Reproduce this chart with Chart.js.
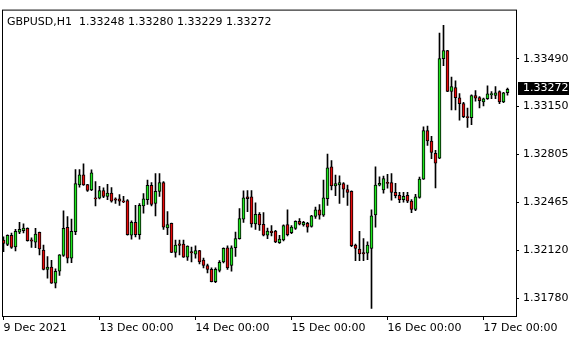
<!DOCTYPE html>
<html>
<head>
<meta charset="utf-8">
<style>
html,body{margin:0;padding:0;background:#fff;}
#wrap{width:580px;height:340px;position:relative;}
</style>
<script src="https://cdn.jsdelivr.net/npm/chart.js@4.4.1/dist/chart.umd.min.js"></script>
</head>
<body>
<div id="wrap"><canvas id="c" width="580" height="340"></canvas></div>
<script>
const symbol = "GBPUSD,H1";

const open = [
1.32194,1.32163,1.32229,1.32145,1.32252,1.32261,1.32278,1.32196,1.32180,1.32250,
1.32124,1.31985,1.32001,1.31887,1.31973,1.32085,1.32285,1.32066,1.32254,1.32588,
1.32661,1.32591,1.32553,1.32496,1.32494,1.32549,1.32507,1.32530,1.32489,1.32489,
1.32473,1.32477,1.32229,1.32321,1.32233,1.32438,1.32484,1.32586,1.32456,1.32542,
1.32606,1.32282,1.32314,1.32107,1.32168,1.32166,1.32073,1.32112,1.32094,1.32119,
1.32052,1.32013,1.31985,1.31898,1.31978,1.32038,1.32140,1.32013,1.32140,1.32205,
1.32344,1.32503,1.32503,1.32310,1.32379,1.32308,1.32229,1.32259,1.32259,1.32177,
1.32196,1.32305,1.32247,1.32278,1.32328,1.32303,1.32314,1.32292,1.32363,1.32410,
1.32372,1.32491,1.32717,1.32581,1.32588,1.32598,1.32556,1.32542,1.32159,1.32131,
1.32105,1.32101,1.32135,1.32375,1.32586,1.32553,1.32606,1.32606,1.32535,1.32514,
1.32484,1.32514,1.32473,1.32414,1.32500,1.32630,1.32976,1.32902,1.32814,1.32779,
1.33490,1.33548,1.33257,1.33283,1.33211,1.33169,1.33076,1.33069,1.33227,1.33213,
1.33181,1.33204,1.33232,1.33227,1.33255,1.33181,1.33248
];
const high = [
1.32217,1.32233,1.32245,1.32271,1.32321,1.32310,1.32282,1.32210,1.32278,1.32252,
1.32159,1.32076,1.32050,1.31989,1.32091,1.32403,1.32363,1.32344,1.32698,1.32698,
1.32740,1.32593,1.32696,1.32612,1.32579,1.32567,1.32593,1.32570,1.32496,1.32519,
1.32507,1.32484,1.32333,1.32442,1.32456,1.32526,1.32623,1.32606,1.32670,1.32670,
1.32612,1.32398,1.32316,1.32194,1.32194,1.32194,1.32154,1.32145,1.32154,1.32121,
1.32066,1.32024,1.31996,1.31996,1.32048,1.32140,1.32154,1.32154,1.32252,1.32419,
1.32547,1.32549,1.32549,1.32461,1.32391,1.32391,1.32280,1.32298,1.32264,1.32229,
1.32303,1.32410,1.32298,1.32333,1.32349,1.32328,1.32321,1.32372,1.32431,1.32449,
1.32623,1.32809,1.32762,1.32658,1.32654,1.32606,1.32588,1.32547,1.32166,1.32257,
1.32205,1.32182,1.32410,1.32717,1.32647,1.32651,1.32665,1.32670,1.32600,1.32535,
1.32535,1.32535,1.32484,1.32521,1.32644,1.33004,1.33009,1.32935,1.32835,1.33673,
1.33729,1.33550,1.33358,1.33332,1.33241,1.33178,1.33137,1.33232,1.33262,1.33220,
1.33208,1.33297,1.33255,1.33290,1.33260,1.33250,1.33280
];
const low = [
1.32112,1.32154,1.32135,1.32117,1.32240,1.32245,1.32187,1.32142,1.32140,1.32089,
1.31982,1.31922,1.31885,1.31853,1.31943,1.32078,1.32031,1.32034,1.32233,1.32572,
1.32585,1.32542,1.32547,1.32438,1.32489,1.32498,1.32484,1.32466,1.32456,1.32442,
1.32461,1.32229,1.32201,1.32217,1.32201,1.32386,1.32449,1.32438,1.32368,1.32507,
1.32271,1.32233,1.32105,1.32073,1.32089,1.32071,1.32050,1.32038,1.32066,1.32024,
1.31996,1.31961,1.31896,1.31891,1.31968,1.32031,1.31985,1.31973,1.32078,1.32201,
1.32321,1.32398,1.32287,1.32271,1.32264,1.32224,1.32205,1.32224,1.32177,1.32170,
1.32189,1.32224,1.32240,1.32271,1.32303,1.32294,1.32252,1.32287,1.32349,1.32344,
1.32363,1.32442,1.32553,1.32512,1.32456,1.32500,1.32442,1.32147,1.32048,1.32048,
1.32048,1.32055,1.31706,1.32287,1.32581,1.32530,1.32565,1.32480,1.32496,1.32461,
1.32466,1.32461,1.32391,1.32405,1.32494,1.32628,1.32870,1.32776,1.32567,1.32776,
1.33441,1.33255,1.33125,1.33125,1.33051,1.33069,1.32999,1.33018,1.33186,1.33139,
1.33153,1.33199,1.33204,1.33204,1.33169,1.33176,1.33229
];
const close = [
1.32170,1.32229,1.32142,1.32257,1.32271,1.32280,1.32191,1.32187,1.32238,1.32131,
1.31985,1.32001,1.31887,1.31971,1.32089,1.32278,1.32066,1.32257,1.32598,1.32661,
1.32588,1.32549,1.32675,1.32489,1.32549,1.32507,1.32530,1.32473,1.32480,1.32473,
1.32468,1.32233,1.32321,1.32233,1.32442,1.32489,1.32586,1.32449,1.32542,1.32606,
1.32287,1.32305,1.32107,1.32159,1.32156,1.32073,1.32152,1.32103,1.32119,1.32038,
1.32013,1.31985,1.31898,1.31985,1.32036,1.32135,1.31996,1.32140,1.32205,1.32349,
1.32496,1.32491,1.32310,1.32379,1.32303,1.32229,1.32259,1.32247,1.32182,1.32201,
1.32298,1.32233,1.32287,1.32328,1.32308,1.32321,1.32287,1.32368,1.32410,1.32372,
1.32496,1.32710,1.32581,1.32598,1.32606,1.32558,1.32535,1.32154,1.32135,1.32096,
1.32096,1.32159,1.32368,1.32588,1.32600,1.32633,1.32600,1.32535,1.32512,1.32484,
1.32507,1.32473,1.32414,1.32503,1.32630,1.32976,1.32902,1.32821,1.32744,1.33490,
1.33548,1.33257,1.33290,1.33211,1.33169,1.33076,1.33069,1.33227,1.33208,1.33190,
1.33204,1.33239,1.33241,1.33246,1.33181,1.33246,1.33272
];

const xTickBars = [0, 24, 48, 72, 96, 120];
const xTickLabels = ["9 Dec 2021", "13 Dec 00:00", "14 Dec 00:00", "15 Dec 00:00", "16 Dec 00:00", "17 Dec 00:00"];
const yTickValues = [1.31780, 1.32120, 1.32465, 1.32805, 1.33150, 1.33490];

const FONT_FAMILY = "'DejaVu Sans', sans-serif";
const FONT = { family: FONT_FAMILY, size: 11 };
const UP = '#1ee61e';
const DOWN = '#e80a0a';

const bodies = open.map((o, i) => ({ x: i, y: [o, close[i]] }));
const wicks = low.map((l, i) => ({ x: i, y: [l, high[i]] }));
const bodyColors = open.map((o, i) => close[i] >= o ? UP : DOWN);

const mtPlugin = {
  id: 'mtframe',
  afterDraw(chart) {
    const ctx = chart.ctx;
    const a = chart.chartArea;
    const ys = chart.scales.y;
    ctx.save();
    ctx.strokeStyle = '#000';
    ctx.lineWidth = 1;
    ctx.strokeRect(a.left - 0.5, a.top - 0.5, a.right - a.left + 1, a.bottom - a.top + 1);
    const n = close.length - 1;
    ctx.fillStyle = '#000';
    ctx.font = '11px ' + FONT_FAMILY;
    ctx.textBaseline = 'alphabetic';
    ctx.textAlign = 'left';
    const hdr = symbol + '  ' + open[n].toFixed(5) + ' ' + high[n].toFixed(5) + ' ' + low[n].toFixed(5) + ' ' + close[n].toFixed(5);
    ctx.fillText(hdr, a.left + 4, a.top + 14);
    const py = ys.getPixelForValue(close[n]);
    ctx.fillStyle = '#000';
    ctx.fillRect(ys.left + 2, Math.round(py) - 7, 51, 13);
    ctx.fillStyle = '#fff';
    ctx.textBaseline = 'middle';
    ctx.fillText(close[n].toFixed(5), ys.left + 7, Math.round(py) - 0.5);
    ctx.restore();
  }
};

new Chart(document.getElementById('c').getContext('2d'), {
  type: 'bar',
  data: {
    datasets: [
      {
        label: 'body', data: bodies, order: 0, grouped: false,
        barThickness: 3, borderWidth: 1, borderColor: '#000', borderSkipped: false,
        minBarLength: 1, backgroundColor: bodyColors
      },
      {
        label: 'wick', data: wicks, order: 1, grouped: false,
        barThickness: 1, borderWidth: 0, backgroundColor: '#000'
      }
    ]
  },
  options: {
    responsive: false,
    animation: false,
    devicePixelRatio: 1,
    layout: { padding: { left: 3, top: 3, right: 0, bottom: 0 } },
    plugins: { legend: { display: false }, tooltip: { enabled: false }, title: { display: false } },
    scales: {
      x: {
        type: 'linear', min: -0.125, max: 128.125, offset: false,
        afterBuildTicks: s => { s.ticks = xTickBars.map(v => ({ value: v })); },
        afterFit: s => { s.height = 24; },
        ticks: {
          callback: (v, i) => xTickLabels[i],
          align: 'start', autoSkip: false, maxRotation: 0, minRotation: 0,
          color: '#000', font: FONT, padding: 2
        },
        grid: { drawOnChartArea: false, drawTicks: true, tickLength: 4, color: '#000', offset: false },
        border: { display: false }
      },
      y: {
        position: 'right', min: 1.316525, max: 1.338335,
        afterBuildTicks: s => { s.ticks = yTickValues.map(v => ({ value: v })); },
        afterFit: s => { s.width = 64; },
        ticks: { callback: v => Number(v).toFixed(5), color: '#000', font: FONT, padding: 4, autoSkip: false },
        grid: { drawOnChartArea: false, drawTicks: true, tickLength: 3, color: '#000' },
        border: { display: false }
      }
    }
  },
  plugins: [mtPlugin]
});
</script>
</body>
</html>
